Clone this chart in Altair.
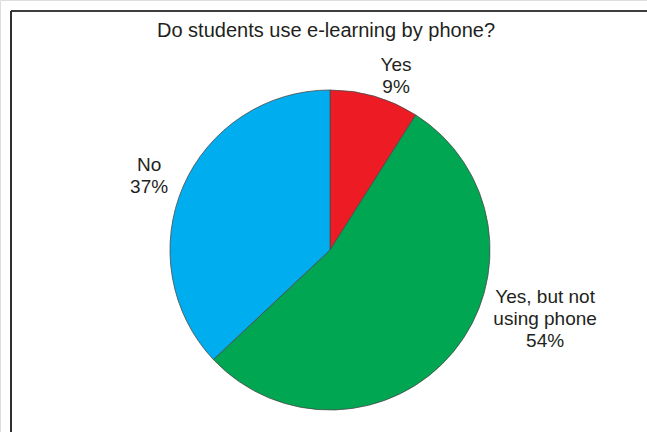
import altair as alt
import pandas as pd

title_text = "Do students use e-learning by phone?"
categories = ["Yes", "Yes, but not\nusing phone", "No"]
values = [9, 54, 37]
colors = ["#ED1C24", "#00A651", "#00AEEF"]

df = pd.DataFrame({
    "cat": categories,
    "value": values,
    "idx": list(range(len(categories))),
})
df["label"] = [f"{c}\n{v}%" for c, v in zip(categories, values)]

CX, CY, R = 330, 250, 160
FONT = "Liberation Sans"
TXT = "#231F20"
total = sum(values)

pie = alt.Chart(df).mark_arc(outerRadius=R, stroke="#4a4a4a", strokeWidth=0.8).encode(
    theta=alt.Theta("value:Q", stack=True),
    order=alt.Order("idx:Q"),
    color=alt.Color("cat:N", scale=alt.Scale(domain=categories, range=colors), legend=None),
    x=alt.value(CX),
    y=alt.value(CY),
)

stacked = alt.Chart(df).transform_stack(
    stack="value", groupby=[], as_=["v0", "v1"], sort=[alt.SortField("idx")]
).transform_calculate(mid="(datum.v0 + datum.v1) / 2")

def label_layer(cat, radius, dx, dy):
    return stacked.transform_filter(alt.datum.cat == cat).mark_text(
        radius=radius, dx=dx, dy=dy, font=FONT, fontSize=19, color=TXT,
        align="center", baseline="middle", lineBreak="\n", lineHeight=22,
    ).encode(
        theta=alt.Theta("mid:Q", scale=alt.Scale(domain=[0, total])),
        text="label:N",
        x=alt.value(CX),
        y=alt.value(CY),
    )

labels = [
    label_layer(categories[0], 176, 17, -16),
    label_layer(categories[1], 200, 61, -80),
    label_layer(categories[2], 196, -1, -7),
]

title = alt.Chart(pd.DataFrame({"t": [title_text]})).mark_text(
    font=FONT, fontSize=20, color=TXT, align="center", baseline="middle"
).encode(text="t:N", x=alt.value(326), y=alt.value(31))

border_top = alt.Chart(df).mark_rule(color="#222", strokeWidth=1.2).encode(
    x=alt.value(11), x2=alt.value(647), y=alt.value(11)
)
border_left = alt.Chart(df).mark_rule(color="#222", strokeWidth=1.2).encode(
    x=alt.value(11), y=alt.value(11), y2=alt.value(432)
)

chart = alt.layer(pie, *labels, title, border_top, border_left).properties(
    width=647, height=432,
    padding=0,
    autosize=alt.AutoSizeParams(type="none"),
).resolve_scale(theta="independent").configure_view(stroke=None).configure(background="white")

chart.save("out.html", embed_options={"renderer": "svg", "actions": False})
